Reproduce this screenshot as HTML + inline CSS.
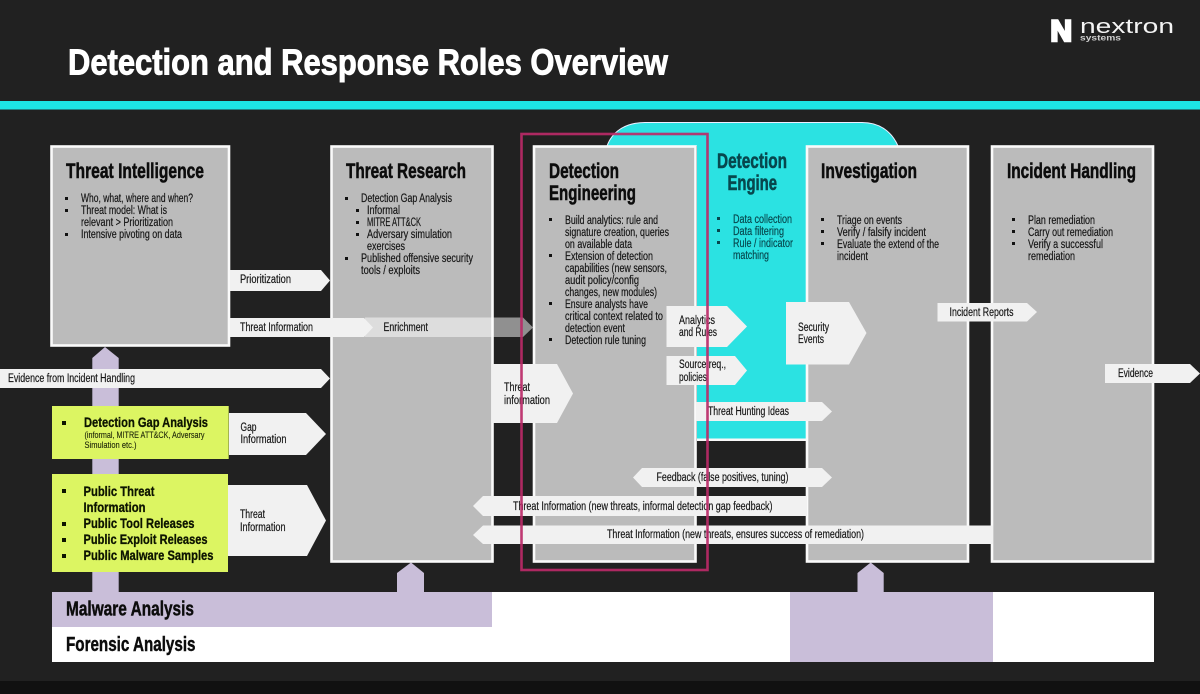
<!DOCTYPE html>
<html><head><meta charset="utf-8"><title>Detection and Response Roles Overview</title>
<style>
html,body{margin:0;padding:0;background:#212121;width:1200px;height:694px;overflow:hidden}
svg{display:block;font-family:"Liberation Sans Narrow","Liberation Sans",sans-serif}
text{fill:#141414;font-size:11.5px;stroke:#141414;stroke-width:.18}
.h{font-size:21.5px;font-weight:700;fill:#0c0c0c;stroke:#0c0c0c;stroke-width:.55}
.b{font-weight:700;font-size:13.5px;fill:#0d1400;stroke:#0d1400;stroke-width:.3}
.s{font-size:9.5px;fill:#1c2408;stroke:#1c2408;stroke-width:.12}
.m{font-size:20px;font-weight:700;fill:#0c0c0c;stroke:#0c0c0c;stroke-width:.45}
.c{fill:#07474d;stroke:#07474d}
.box{fill:#bbb;stroke:#fafafa;stroke-width:2.6}
.ar{fill:#f1f1f1}
.pu{fill:#c9bed9}
.gr{fill:#dcf562}
</style></head><body>
<svg width="1200" height="694" viewBox="0 0 1200 694" xmlns="http://www.w3.org/2000/svg">
<rect width="1200" height="694" fill="#212121"/>
<rect y="681" width="1200" height="13" fill="#111"/>
<rect y="101" width="1200" height="8.5" fill="#1de6e6"/>

<text x="68" y="74.5" textLength="600" lengthAdjust="spacingAndGlyphs" style="font-size:36px;font-weight:700;fill:#fff;stroke:#fff;stroke-width:.9">Detection and Response Roles Overview</text>

<!-- logo -->
<text x="1050.5" y="41" textLength="21.5" lengthAdjust="spacingAndGlyphs" style="font-size:29.5px;font-weight:700;fill:#fff;stroke:#fff;stroke-width:2.6">N</text>
<text x="1080" y="33" textLength="94" lengthAdjust="spacingAndGlyphs" style="font-size:20px;fill:#f4f4f4;stroke:none">nextron</text>
<text x="1080" y="40.5" textLength="41" lengthAdjust="spacingAndGlyphs" style="font-size:8.5px;font-weight:700;fill:#d0d0d0;stroke:none">systems</text>

<!-- bottom bands -->
<rect x="52" y="592" width="1102" height="70" fill="#fff"/>
<rect class="pu" x="52" y="592" width="440" height="35"/>
<rect class="pu" x="790" y="592" width="203" height="70"/>
<text class="m" x="66" y="615.5" textLength="128" lengthAdjust="spacingAndGlyphs">Malware Analysis</text>
<text class="m" x="66" y="651" textLength="129.5" lengthAdjust="spacingAndGlyphs">Forensic Analysis</text>

<!-- purple connectors -->
<polygon class="pu" points="105,347 118.7,358 118.7,592 92.3,592 92.3,358"/>
<polygon class="pu" points="411,562.5 424,573 424,592 397,592 397,573"/>
<polygon class="pu" points="870.7,562.5 883.7,573 883.7,592 857.5,592 857.5,573"/>

<!-- detection engine panel -->
<path d="M607 146 C612 132 625 122.5 645 122.5 L862 122.5 C880 122.5 892 132 898 146 Z" fill="#2be2e2"/>
<path d="M607 146 C612 132 625 122.5 645 122.5 L862 122.5 C880 122.5 892 132 898 146" fill="none" stroke="#eef" stroke-width="1"/>
<rect x="697" y="145" width="109" height="294" fill="#2be2e2"/>
<rect x="697" y="438.5" width="109" height="2.5" fill="#f8f8f8"/>

<!-- boxes -->
<rect class="box" x="51.5" y="146.5" width="177.5" height="199"/>
<rect class="box" x="331.5" y="146.5" width="161" height="415"/>
<rect class="box" x="534" y="146.5" width="161.5" height="415"/>
<rect class="box" x="807" y="146.5" width="161" height="415"/>
<rect class="box" x="992" y="146.5" width="161" height="415"/>

<!-- Threat Intelligence -->
<text class="h" x="66" y="178" textLength="138" lengthAdjust="spacingAndGlyphs">Threat Intelligence</text>
<g fill="#111"><rect x="65" y="197" width="3" height="3"/><rect x="65" y="209" width="3" height="3"/><rect x="65" y="233" width="3" height="3"/></g>
<text x="81" y="202" textLength="112" lengthAdjust="spacingAndGlyphs">Who, what, where and when?</text>
<text x="81" y="214" textLength="86" lengthAdjust="spacingAndGlyphs">Threat model: What is</text>
<text x="81" y="226" textLength="92" lengthAdjust="spacingAndGlyphs">relevant &gt; Prioritization</text>
<text x="81" y="238" textLength="101" lengthAdjust="spacingAndGlyphs">Intensive pivoting on data</text>

<!-- Threat Research -->
<text class="h" x="346" y="178" textLength="120" lengthAdjust="spacingAndGlyphs">Threat Research</text>
<g fill="#111"><rect x="345" y="197" width="3" height="3"/><rect x="356" y="209" width="3" height="3"/><rect x="356" y="221" width="3" height="3"/><rect x="356" y="233" width="3" height="3"/><rect x="345" y="257" width="3" height="3"/></g>
<text x="361" y="202" textLength="91" lengthAdjust="spacingAndGlyphs">Detection Gap Analysis</text>
<text x="367" y="214" textLength="33" lengthAdjust="spacingAndGlyphs">Informal</text>
<text x="367" y="226" textLength="54" lengthAdjust="spacingAndGlyphs">MITRE ATT&amp;CK</text>
<text x="367" y="238" textLength="85" lengthAdjust="spacingAndGlyphs">Adversary simulation</text>
<text x="367" y="250" textLength="38" lengthAdjust="spacingAndGlyphs">exercises</text>
<text x="361" y="262" textLength="112" lengthAdjust="spacingAndGlyphs">Published offensive security</text>
<text x="361" y="274" textLength="59" lengthAdjust="spacingAndGlyphs">tools / exploits</text>

<!-- Detection Engineering -->
<text class="h" x="549" y="178" textLength="70" lengthAdjust="spacingAndGlyphs">Detection</text>
<text class="h" x="549" y="200" textLength="87" lengthAdjust="spacingAndGlyphs">Engineering</text>
<g fill="#111"><rect x="549" y="218" width="3" height="3"/><rect x="549" y="254" width="3" height="3"/><rect x="549" y="302" width="3" height="3"/><rect x="549" y="338" width="3" height="3"/></g>
<text x="565" y="224" textLength="93" lengthAdjust="spacingAndGlyphs">Build analytics: rule and</text>
<text x="565" y="236" textLength="104" lengthAdjust="spacingAndGlyphs">signature creation, queries</text>
<text x="565" y="248" textLength="67" lengthAdjust="spacingAndGlyphs">on available data</text>
<text x="565" y="260" textLength="88" lengthAdjust="spacingAndGlyphs">Extension of detection</text>
<text x="565" y="272" textLength="102" lengthAdjust="spacingAndGlyphs">capabilities (new sensors,</text>
<text x="565" y="284" textLength="74" lengthAdjust="spacingAndGlyphs">audit policy/config</text>
<text x="565" y="296" textLength="92" lengthAdjust="spacingAndGlyphs">changes, new modules)</text>
<text x="565" y="308" textLength="83" lengthAdjust="spacingAndGlyphs">Ensure analysts have</text>
<text x="565" y="320" textLength="98" lengthAdjust="spacingAndGlyphs">critical context related to</text>
<text x="565" y="332" textLength="60" lengthAdjust="spacingAndGlyphs">detection event</text>
<text x="565" y="344" textLength="81" lengthAdjust="spacingAndGlyphs">Detection rule tuning</text>

<!-- Detection Engine -->
<text class="h c" x="717" y="168" textLength="70" lengthAdjust="spacingAndGlyphs">Detection</text>
<text class="h c" x="727.5" y="190" textLength="49.5" lengthAdjust="spacingAndGlyphs">Engine</text>
<g fill="#07474d"><rect x="717" y="217" width="3" height="3"/><rect x="717" y="229" width="3" height="3"/><rect x="717" y="241" width="3" height="3"/></g>
<text class="c" x="733" y="223" textLength="59" lengthAdjust="spacingAndGlyphs">Data collection</text>
<text class="c" x="733" y="235" textLength="51" lengthAdjust="spacingAndGlyphs">Data filtering</text>
<text class="c" x="733" y="247" textLength="60" lengthAdjust="spacingAndGlyphs">Rule / indicator</text>
<text class="c" x="733" y="259" textLength="36" lengthAdjust="spacingAndGlyphs">matching</text>

<!-- Investigation -->
<text class="h" x="821" y="178" textLength="96" lengthAdjust="spacingAndGlyphs">Investigation</text>
<g fill="#111"><rect x="821" y="218" width="3" height="3"/><rect x="821" y="230" width="3" height="3"/><rect x="821" y="242" width="3" height="3"/></g>
<text x="837" y="224" textLength="65" lengthAdjust="spacingAndGlyphs">Triage on events</text>
<text x="837" y="236" textLength="89" lengthAdjust="spacingAndGlyphs">Verify / falsify incident</text>
<text x="837" y="248" textLength="102" lengthAdjust="spacingAndGlyphs">Evaluate the extend of the</text>
<text x="837" y="260" textLength="31" lengthAdjust="spacingAndGlyphs">incident</text>

<!-- Incident Handling -->
<text class="h" x="1007" y="178" textLength="129" lengthAdjust="spacingAndGlyphs">Incident Handling</text>
<g fill="#111"><rect x="1012" y="218" width="3" height="3"/><rect x="1012" y="230" width="3" height="3"/><rect x="1012" y="242" width="3" height="3"/></g>
<text x="1028" y="224" textLength="67" lengthAdjust="spacingAndGlyphs">Plan remediation</text>
<text x="1028" y="236" textLength="85" lengthAdjust="spacingAndGlyphs">Carry out remediation</text>
<text x="1028" y="248" textLength="75" lengthAdjust="spacingAndGlyphs">Verify a successful</text>
<text x="1028" y="260" textLength="47" lengthAdjust="spacingAndGlyphs">remediation</text>

<!-- green boxes -->
<rect class="gr" x="52" y="406" width="176.7" height="53"/>
<rect class="gr" x="52" y="474" width="176" height="98"/>
<g fill="#0d1400"><rect x="62" y="421" width="4" height="4"/><rect x="62" y="489" width="4" height="4"/><rect x="62" y="522" width="4" height="4"/><rect x="62" y="538" width="4" height="4"/><rect x="62" y="554" width="4" height="4"/></g>
<text class="b" x="84" y="427" textLength="124" lengthAdjust="spacingAndGlyphs">Detection Gap Analysis</text>
<text class="s" x="84.5" y="438" textLength="120" lengthAdjust="spacingAndGlyphs">(informal, MITRE ATT&amp;CK, Adversary</text>
<text class="s" x="84.5" y="448" textLength="52" lengthAdjust="spacingAndGlyphs">Simulation etc.)</text>
<text class="b" x="83.5" y="496" textLength="71" lengthAdjust="spacingAndGlyphs">Public Threat</text>
<text class="b" x="83.5" y="512" textLength="62" lengthAdjust="spacingAndGlyphs">Information</text>
<text class="b" x="83.5" y="528" textLength="111" lengthAdjust="spacingAndGlyphs">Public Tool Releases</text>
<text class="b" x="83.5" y="544" textLength="124" lengthAdjust="spacingAndGlyphs">Public Exploit Releases</text>
<text class="b" x="83.5" y="560" textLength="130" lengthAdjust="spacingAndGlyphs">Public Malware Samples</text>

<!-- arrows -->
<polygon class="ar" points="230,270 321,270 330,280.5 321,291 230,291"/>
<polygon fill="#fff" fill-opacity=".5" points="365,317.5 523,317.5 533,327.5 523,337 365,337"/>
<polygon class="ar" points="230,318 364,318 373,327.5 364,337 230,337"/>
<polygon class="ar" points="0,369 321,369 330,378.5 321,388 0,388"/>
<polygon class="ar" points="229,413 306,413 326,434 306,455 229,455"/>
<polygon class="ar" points="228,485 307,485 326,520.5 307,556 228,556"/>
<polygon class="ar" points="492,364 557,364 573,393.5 557,423 492,423"/>
<polygon class="ar" points="666.5,306 727,306 747,326.5 727,347 666.5,347"/>
<polygon class="ar" points="666.5,356 735,356 747,370.5 735,385 666.5,385"/>
<polygon class="ar" points="696,402 822,402 832,411.5 822,421 696,421"/>
<polygon class="ar" points="786,302 849,302 866.5,333 849,364.5 786,364.5"/>
<polygon class="ar" points="937.5,303 1027,303 1037,312 1027,321.5 937.5,321.5"/>
<polygon class="ar" points="1105,364 1190,364 1200,373.5 1190,383 1105,383"/>
<polygon class="ar" points="642,468 822,468 832,477.5 822,487 642,487 633,477.5"/>
<polygon class="ar" points="483,496 807,496 807,516 483,516 473,506"/>
<polygon class="ar" points="483,525.5 993,525.5 993,544 483,544 473,535"/>

<!-- arrow labels -->
<text x="240" y="283" textLength="51" lengthAdjust="spacingAndGlyphs">Prioritization</text>
<text x="240" y="331" textLength="73" lengthAdjust="spacingAndGlyphs">Threat Information</text>
<text x="383.5" y="331" textLength="44.5" lengthAdjust="spacingAndGlyphs">Enrichment</text>
<text x="8" y="382" textLength="127" lengthAdjust="spacingAndGlyphs">Evidence from Incident Handling</text>
<text x="240.5" y="431" textLength="16" lengthAdjust="spacingAndGlyphs">Gap</text>
<text x="240.5" y="443" textLength="46" lengthAdjust="spacingAndGlyphs">Information</text>
<text x="240" y="518" textLength="25" lengthAdjust="spacingAndGlyphs">Threat</text>
<text x="240" y="531" textLength="45.5" lengthAdjust="spacingAndGlyphs">Information</text>
<text x="504" y="391" textLength="26" lengthAdjust="spacingAndGlyphs">Threat</text>
<text x="504" y="404" textLength="46" lengthAdjust="spacingAndGlyphs">information</text>
<text x="679" y="324" textLength="36" lengthAdjust="spacingAndGlyphs">Analytics</text>
<text x="679" y="336" textLength="38" lengthAdjust="spacingAndGlyphs">and Rules</text>
<text x="679" y="368" textLength="47" lengthAdjust="spacingAndGlyphs">Source req.,</text>
<text x="679" y="381" textLength="28" lengthAdjust="spacingAndGlyphs">policies</text>
<text x="708" y="415" textLength="81" lengthAdjust="spacingAndGlyphs">Threat Hunting Ideas</text>
<text x="798" y="331" textLength="31" lengthAdjust="spacingAndGlyphs">Security</text>
<text x="798" y="343" textLength="26" lengthAdjust="spacingAndGlyphs">Events</text>
<text x="949.5" y="316" textLength="64" lengthAdjust="spacingAndGlyphs">Incident Reports</text>
<text x="1118" y="377" textLength="35" lengthAdjust="spacingAndGlyphs">Evidence</text>
<text x="656.5" y="481" textLength="132" lengthAdjust="spacingAndGlyphs">Feedback (false positives, tuning)</text>
<text x="513" y="510" textLength="259.5" lengthAdjust="spacingAndGlyphs">Threat Information (new threats, informal detection gap feedback)</text>
<text x="607" y="538" textLength="257" lengthAdjust="spacingAndGlyphs">Threat Information (new threats, ensures success of remediation)</text>

<!-- pink highlight -->
<rect x="521.5" y="134" width="186" height="436" fill="none" stroke="#bb2a68" stroke-width="2.6" stroke-opacity=".92"/>
</svg>
</body></html>
